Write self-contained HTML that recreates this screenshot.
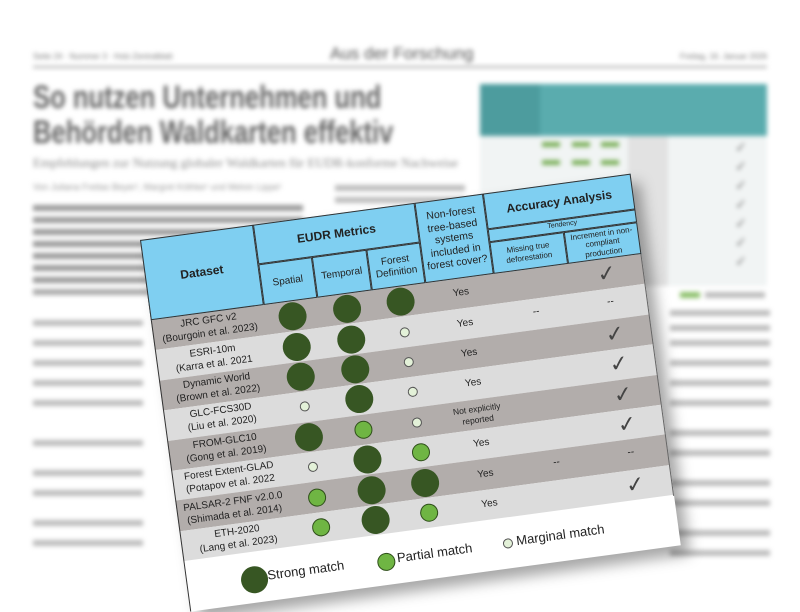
<!DOCTYPE html>
<html><head><meta charset="utf-8"><style>
body{margin:0;width:800px;height:600px;overflow:hidden;background:#fff;font-family:"Liberation Sans",sans-serif;position:relative}
.bg{position:absolute;left:0;top:0;width:800px;height:600px;filter:blur(2.5px)}
.a{position:absolute}
.ln{position:absolute;height:6px;background:#bdbdbd}
.t{position:absolute;left:140px;top:240px;width:495px;height:375px;transform-origin:0 0;transform:rotate(-7.7deg);box-shadow:8px 10px 14px rgba(0,0,0,.35);background:#fff}
.c{position:absolute;box-sizing:border-box;display:flex;align-items:center;justify-content:center;text-align:center;color:#222;font-size:10px;line-height:1.2}
.h{background:#7fcff1;border:1px solid #333}
.r{position:absolute;left:0;width:495px;height:30.4px}
.d{position:absolute;border-radius:50%;box-sizing:border-box;transform:translate(-50%,-50%)}
.S{width:28px;height:28px;background:#375623}
.P{width:18px;height:18px;background:#6fb543;border:1px solid #2f4f1a}
.M{width:10px;height:10px;background:#e3f1d8;border:1px solid #555}
.ck{position:absolute;font-size:22px;color:#444;transform:translate(-50%,-50%)}
.tx{position:absolute;transform:translate(-50%,-50%);font-size:10px;color:#222;text-align:center;white-space:nowrap;line-height:1.25}
</style></head><body>
<div class="bg">
<div class="a" style="left:33px;top:52px;font-size:8px;color:#777">Seite 24 · Nummer 3 · Holz-Zentralblatt</div>
<div class="a" style="left:330px;top:44px;font-size:17px;color:#555">Aus der Forschung</div>
<div class="a" style="left:680px;top:52px;font-size:8px;color:#777">Freitag, 16. Januar 2026</div>
<div class="a" style="left:33px;top:66px;width:734px;height:2px;background:#aaa"></div>
<div class="a" style="left:33px;top:80px;font-size:32px;font-weight:bold;color:#666;line-height:35px;transform:scaleX(0.8);transform-origin:0 0;white-space:nowrap">So nutzen Unternehmen und<br>Behörden Waldkarten effektiv</div>
<div class="a" style="left:33px;top:155px;font-size:13px;color:#888;font-family:'Liberation Serif',serif">Empfehlungen zur Nutzung globaler Waldkarten für EUDR-konforme Nachweise</div>
<div class="a" style="left:33px;top:182px;font-size:9px;color:#999">Von Juliana Freitas Beyer¹, Margret Köthke¹ und Melvin Lippe¹</div>
<div class="ln" style="left:33px;top:205px;width:270px;background:#999"></div>
<div class="ln" style="left:33px;top:217px;width:270px;background:#999"></div>
<div class="ln" style="left:33px;top:229px;width:270px;background:#999"></div>
<div class="ln" style="left:33px;top:241px;width:270px;background:#999"></div>
<div class="ln" style="left:33px;top:253px;width:270px;background:#999"></div>
<div class="ln" style="left:33px;top:265px;width:270px;background:#999"></div>
<div class="ln" style="left:33px;top:277px;width:270px;background:#999"></div>
<div class="ln" style="left:33px;top:289px;width:270px;background:#aaa"></div>
<div class="ln" style="left:33px;top:320px;width:110px"></div>
<div class="ln" style="left:33px;top:340px;width:110px"></div>
<div class="ln" style="left:33px;top:360px;width:110px"></div>
<div class="ln" style="left:33px;top:380px;width:110px"></div>
<div class="ln" style="left:33px;top:400px;width:110px"></div>
<div class="ln" style="left:33px;top:440px;width:110px"></div>
<div class="ln" style="left:33px;top:470px;width:110px"></div>
<div class="ln" style="left:33px;top:490px;width:110px"></div>
<div class="ln" style="left:33px;top:520px;width:110px"></div>
<div class="ln" style="left:33px;top:540px;width:110px"></div>
<div class="ln" style="left:335px;top:185px;width:130px"></div>
<div class="ln" style="left:335px;top:197px;width:130px"></div>
<div class="a" style="left:480px;top:84px;width:287px;height:52px;background:#5aacae"></div>
<div class="a" style="left:480px;top:84px;width:60px;height:52px;background:#4d9c9e"></div>
<div class="a" style="left:480px;top:136px;width:287px;height:150px;background:#f1f4f4"></div>
<div class="a" style="left:628px;top:136px;width:40px;height:150px;background:#e2e2e2"></div>
<div class="a" style="left:542px;top:142px;width:18px;height:5px;background:#7bb05a"></div>
<div class="a" style="left:572px;top:142px;width:18px;height:5px;background:#7bb05a"></div>
<div class="a" style="left:601px;top:142px;width:18px;height:5px;background:#7bb05a"></div>
<div class="a" style="left:542px;top:160px;width:18px;height:5px;background:#7bb05a"></div>
<div class="a" style="left:572px;top:160px;width:18px;height:5px;background:#7bb05a"></div>
<div class="a" style="left:601px;top:160px;width:18px;height:5px;background:#7bb05a"></div>
<div class="a" style="left:735px;top:138px;font-size:14px;color:#777;line-height:19px">✓<br>✓<br>✓<br>✓<br>✓<br>✓<br>✓</div>
<div class="ln" style="left:680px;top:292px;width:20px;background:#8cc06a"></div>
<div class="ln" style="left:705px;top:292px;width:60px"></div>
<div class="ln" style="left:670px;top:310px;width:100px"></div>
<div class="ln" style="left:670px;top:325px;width:100px"></div>
<div class="ln" style="left:670px;top:340px;width:100px"></div>
<div class="ln" style="left:670px;top:360px;width:100px"></div>
<div class="ln" style="left:670px;top:380px;width:100px"></div>
<div class="ln" style="left:670px;top:400px;width:100px"></div>
<div class="ln" style="left:670px;top:430px;width:100px"></div>
<div class="ln" style="left:670px;top:450px;width:100px"></div>
<div class="ln" style="left:670px;top:480px;width:100px"></div>
<div class="ln" style="left:670px;top:500px;width:100px"></div>
<div class="ln" style="left:670px;top:530px;width:100px"></div>
<div class="ln" style="left:670px;top:550px;width:100px"></div>
</div>

<div class="t">
<div class="r" style="top:81px;background:#b2adab"></div>
<div class="r" style="top:111.4px;background:#dcdcdc"></div>
<div class="r" style="top:141.8px;background:#b2adab"></div>
<div class="r" style="top:172.2px;background:#dcdcdc"></div>
<div class="r" style="top:202.6px;background:#b2adab"></div>
<div class="r" style="top:233px;background:#dcdcdc"></div>
<div class="r" style="top:263.4px;background:#b2adab"></div>
<div class="r" style="top:293.8px;background:#dcdcdc"></div>
<div style="position:absolute;left:0;top:0;width:1px;height:375px;background:#333"></div>
<div style="position:absolute;left:494px;top:0;width:1px;height:325px;background:#666"></div>

<div class="c h" style="left:0;top:0;width:114px;height:81px;font-size:12px;font-weight:bold">Dataset</div>
<div class="c h" style="left:114px;top:0;width:163px;height:40px;font-size:12px;font-weight:bold">EUDR Metrics</div>
<div class="c h" style="left:114px;top:40px;width:54px;height:41px">Spatial</div>
<div class="c h" style="left:168px;top:40px;width:55px;height:41px">Temporal</div>
<div class="c h" style="left:223px;top:40px;width:54px;height:41px">Forest Definition</div>
<div class="c h" style="left:277px;top:0;width:69px;height:81px;font-size:10.5px">Non-forest tree-based systems included in forest cover?</div>
<div class="c h" style="left:346px;top:0;width:149px;height:36px;font-size:12px;font-weight:bold">Accuracy Analysis</div>
<div class="c h" style="left:346px;top:36px;width:149px;height:13px;font-size:7px">Tendency</div>
<div class="c h" style="left:346px;top:49px;width:75px;height:32px;font-size:8px">Missing true deforestation</div>
<div class="c h" style="left:421px;top:49px;width:74px;height:32px;font-size:8px">Increment in non-compliant production</div>

<div class="tx" style="left:57px;top:96px">JRC GFC v2<br>(Bourgoin et al. 2023)</div>
<div class="tx" style="left:57px;top:127px">ESRI-10m<br>(Karra et al. 2021</div>
<div class="tx" style="left:57px;top:157px">Dynamic World<br>(Brown et al. 2022)</div>
<div class="tx" style="left:57px;top:187px">GLC-FCS30D<br>(Liu et al. 2020)</div>
<div class="tx" style="left:57px;top:218px">FROM-GLC10<br>(Gong et al. 2019)</div>
<div class="tx" style="left:57px;top:248px">Forest Extent-GLAD<br>(Potapov et al. 2022</div>
<div class="tx" style="left:57px;top:279px">PALSAR-2 FNF v2.0.0<br>(Shimada et al. 2014)</div>
<div class="tx" style="left:57px;top:309px">ETH-2020<br>(Lang et al. 2023)</div>

<div class="d S" style="left:141px;top:96px"></div><div class="d S" style="left:196px;top:96px"></div><div class="d S" style="left:250px;top:96px"></div>
<div class="d S" style="left:141px;top:127px"></div><div class="d S" style="left:196px;top:127px"></div><div class="d M" style="left:250px;top:127px"></div>
<div class="d S" style="left:141px;top:157px"></div><div class="d S" style="left:196px;top:157px"></div><div class="d M" style="left:250px;top:157px"></div>
<div class="d M" style="left:141px;top:187px"></div><div class="d S" style="left:196px;top:187px"></div><div class="d M" style="left:250px;top:187px"></div>
<div class="d S" style="left:141px;top:218px"></div><div class="d P" style="left:196px;top:218px"></div><div class="d M" style="left:250px;top:218px"></div>
<div class="d M" style="left:141px;top:248px"></div><div class="d S" style="left:196px;top:248px"></div><div class="d P" style="left:250px;top:248px"></div>
<div class="d P" style="left:141px;top:279px"></div><div class="d S" style="left:196px;top:279px"></div><div class="d S" style="left:250px;top:279px"></div>
<div class="d P" style="left:141px;top:309px"></div><div class="d S" style="left:196px;top:309px"></div><div class="d P" style="left:250px;top:309px"></div>

<div class="tx" style="left:311px;top:96px">Yes</div>
<div class="tx" style="left:311px;top:127px">Yes</div>
<div class="tx" style="left:311px;top:157px">Yes</div>
<div class="tx" style="left:311px;top:187px">Yes</div>
<div class="tx" style="left:311px;top:218px;font-size:8.5px">Not explicitly<br>reported</div>
<div class="tx" style="left:311px;top:248px">Yes</div>
<div class="tx" style="left:311px;top:279px">Yes</div>
<div class="tx" style="left:311px;top:309px">Yes</div>

<div class="tx" style="left:383px;top:125px">--</div>
<div class="tx" style="left:383px;top:277px">--</div>
<div class="ck" style="left:458px;top:96px">✓</div>
<div class="tx" style="left:458px;top:125px">--</div>
<div class="ck" style="left:458px;top:157px">✓</div>
<div class="ck" style="left:458px;top:187px">✓</div>
<div class="ck" style="left:458px;top:218px">✓</div>
<div class="ck" style="left:458px;top:248px">✓</div>
<div class="tx" style="left:458px;top:277px">--</div>
<div class="ck" style="left:458px;top:309px">✓</div>

<div class="d S" style="left:68px;top:352px;width:27px;height:27px"></div>
<div class="tx" style="left:120px;top:350px;font-size:13px">Strong match</div>
<div class="d P" style="left:201px;top:352px"></div>
<div class="tx" style="left:250px;top:350px;font-size:13px">Partial match</div>
<div class="d M" style="left:324px;top:350px"></div>
<div class="tx" style="left:377px;top:349px;font-size:13px">Marginal match</div>
</div>
</body></html>
